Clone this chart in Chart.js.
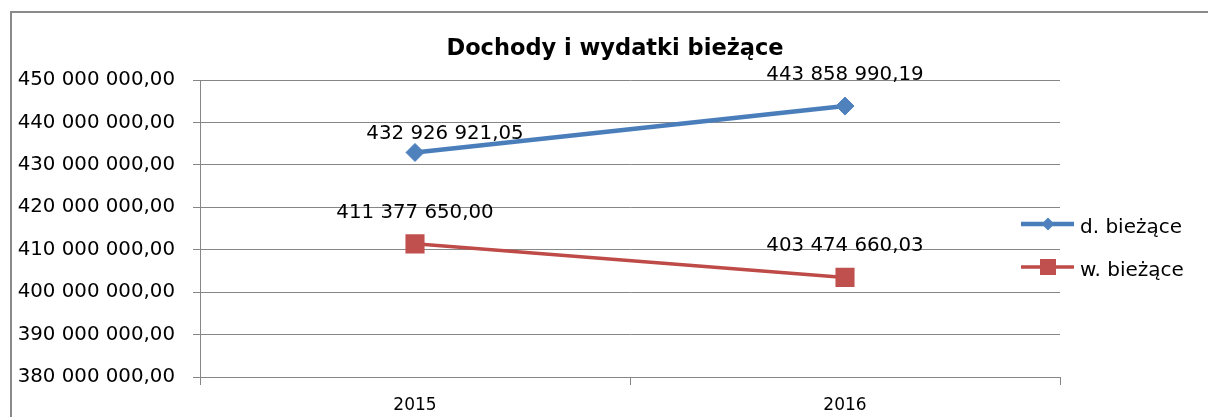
<!DOCTYPE html>
<html lang="pl">
<head>
<meta charset="utf-8">
<title>Dochody i wydatki bieżące</title>
<script src="https://cdn.jsdelivr.net/npm/chart.js"></script>
<style>
  html, body { margin: 0; padding: 0; background: #fff; overflow: hidden; }
  canvas { display: block; }
</style>
</head>
<body>
<canvas id="chart" width="1208" height="417"></canvas>
<script>
// Dochody i wydatki bieżące - 2015 vs 2016

const years = ['2015', '2016'];
const dochodyBiezace = [432926921.05, 443858990.19];
const wydatkiBiezace = [411377650.00, 403474660.03];
const yTickValues = [380000000, 390000000, 400000000, 410000000, 420000000, 430000000, 440000000, 450000000];
const seriesNames = ['d. bieżące', 'w. bieżące'];
const chartTitle = 'Dochody i wydatki bieżące';

const FONT = '"DejaVu Sans", sans-serif';
const GRID = '#868686';

// 450 000 000,00 style
function fmt(v) {
  const [i, d] = Number(v).toFixed(2).split('.');
  return i.replace(/\B(?=(\d{3})+(?!\d))/g, ' ') + ',' + d;
}

function diamond(ctx, x, y, r, color) {
  ctx.beginPath();
  ctx.moveTo(x - r, y);
  ctx.lineTo(x, y - r);
  ctx.lineTo(x + r, y);
  ctx.lineTo(x, y + r);
  ctx.closePath();
  ctx.fillStyle = color;
  ctx.fill();
}

// white background + the cropped chart frame (only top and left edges show)
const frame = {
  id: 'frame',
  beforeDraw(chart) {
    const ctx = chart.ctx;
    ctx.save();
    ctx.fillStyle = '#fff';
    ctx.fillRect(0, 0, chart.width, chart.height);
    ctx.fillStyle = '#8a8a8a';
    ctx.fillRect(10, 11, chart.width - 10, 2);
    ctx.fillRect(10, 11, 2, chart.height - 11);
    ctx.restore();
  }
};

// title, point labels and the line+marker legend on the right
const extras = {
  id: 'extras',
  afterDraw(chart) {
    const ctx = chart.ctx;
    ctx.save();

    ctx.fillStyle = '#000';
    ctx.font = 'bold 22.5px ' + FONT;
    ctx.textAlign = 'center';
    ctx.textBaseline = 'alphabetic';
    ctx.fillText(chartTitle, 615, 55);

    // data labels (the 2015 "d." label was nudged in the original)
    const nudge = { '0-0': [30, -13] };
    ctx.font = '19.8px ' + FONT;
    chart.data.datasets.forEach((ds, di) => {
      chart.getDatasetMeta(di).data.forEach((pt, i) => {
        const off = nudge[di + '-' + i] || [0, -26];
        ctx.fillText(fmt(ds.data[i]), pt.x + off[0], pt.y + off[1]);
      });
    });

    // legend
    ctx.textAlign = 'left';
    ctx.font = '20px ' + FONT;
    chart.data.datasets.forEach((ds, di) => {
      const y = 224 + di * 43;
      ctx.strokeStyle = ds.borderColor;
      ctx.lineWidth = ds.borderWidth;
      ctx.beginPath();
      ctx.moveTo(1021, y);
      ctx.lineTo(1074, y);
      ctx.stroke();
      if (ds.pointStyle === 'rectRot') {
        diamond(ctx, 1048, y, 6.5, ds.pointBackgroundColor);
      } else {
        ctx.fillStyle = ds.pointBackgroundColor;
        ctx.fillRect(1040, y - 8, 16, 16);
      }
      ctx.fillStyle = '#000';
      ctx.fillText(ds.label, 1080, y + 8.5);
    });

    ctx.restore();
  }
};

new Chart(document.getElementById('chart'), {
  type: 'line',
  data: {
    labels: years,
    datasets: [
      {
        label: seriesNames[0],
        data: dochodyBiezace,
        borderColor: '#4A7EBB',
        borderWidth: 4.5,
        pointStyle: 'rectRot',
        pointRadius: 9,
        pointBorderWidth: 1,
        pointBackgroundColor: '#4F81BD',
        pointBorderColor: '#4F81BD',
        tension: 0,
      },
      {
        label: seriesNames[1],
        data: wydatkiBiezace,
        borderColor: '#BE4B48',
        borderWidth: 3.5,
        pointStyle: 'rect',
        pointRadius: 13.5,
        pointBorderWidth: 0,
        pointBackgroundColor: '#C0504D',
        pointBorderColor: '#C0504D',
        tension: 0,
      },
    ],
  },
  options: {
    responsive: false,
    animation: false,
    devicePixelRatio: 1,
    layout: { padding: { top: 80, right: 148, bottom: 0, left: 0 } },
    plugins: {
      legend: { display: false },
      title: { display: false },
      tooltip: { enabled: false },
    },
    scales: {
      x: {
        offset: true,
        grid: { offset: true, drawOnChartArea: false, drawTicks: true, tickLength: 8, color: GRID },
        border: { display: true, color: GRID, width: 1 },
        ticks: { color: '#000', font: { family: FONT, size: 17 }, padding: 10 },
        afterFit(scale) { scale.height = 40; },
      },
      y: {
        min: yTickValues[0],
        max: yTickValues[yTickValues.length - 1],
        afterBuildTicks(scale) { scale.ticks = yTickValues.map(v => ({ value: v })); },
        grid: { color: GRID, tickLength: 7, drawTicks: true },
        border: { display: true, color: GRID, width: 1 },
        ticks: {
          color: '#000',
          font: { family: FONT, size: 19.8 },
          padding: 18,
          callback: v => fmt(v),
        },
        afterFit(scale) { scale.width = 200; },
      },
    },
  },
  plugins: [frame, extras],
});
</script>
</body>
</html>
